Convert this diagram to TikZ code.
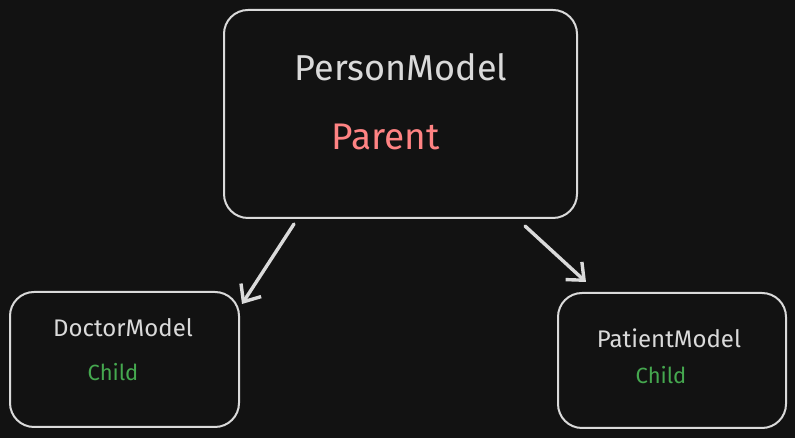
\documentclass[tikz,border=0pt]{standalone}
\usepackage{fontspec}
\setmainfont{Fira Sans}
\usetikzlibrary{arrows.meta}

\definecolor{fond}{HTML}{121212}
\definecolor{trait}{HTML}{DADADA}
\definecolor{rouge}{HTML}{FF8383}
\definecolor{vert}{HTML}{45A84F}

\tikzset{
	boite/.style={draw=trait, line width=2pt, rounded corners=24pt, inner sep=0pt},
	titre/.style={text=trait, inner sep=0pt},
	fleche/.style={draw=trait, line width=3.4pt, line cap=round,
		-{Straight Barb[length=14pt, width=24pt, line width=3.4pt]}}
}

\begin{document}
\begin{tikzpicture}[x=1pt, y=1pt]

	\def\L{795} % Largeur de l'image
	
	\def\H{438} % Hauteur de l'image
	
	% fond
	\fill[fond] (0, 0) rectangle (\L, \H);
	\useasboundingbox (0, 0) rectangle (\L, \H);
	
	% les trois boites
	\node[boite, minimum width=353pt, minimum height=208pt] (person) at (400.5, 324) {};
	\node[boite, minimum width=229pt, minimum height=135pt] (doctor) at (124.5, 78.5) {};
	\node[boite, minimum width=228pt, minimum height=135pt] (patient) at (672, 77.5) {};
	
	% les textes
	\node[titre, font=\fontsize{36}{40}\selectfont] (personNom) at (401, 371) {PersonModel};
	\node[titre, text=rouge, font=\fontsize{37}{40}\selectfont] (personRole) at (385.5, 301) {Parent};
	\node[titre, font=\fontsize{24}{28}\selectfont] (doctorNom) at (123, 110) {DoctorModel};
	\node[titre, text=vert, font=\fontsize{22}{26}\selectfont] (doctorRole) at (113, 66) {Child};
	\node[titre, font=\fontsize{24}{28}\selectfont] (patientNom) at (669, 100) {PatientModel};
	\node[titre, text=vert, font=\fontsize{22}{26}\selectfont] (patientRole) at (661, 63) {Child};
	
	% extremites des fleches
	\coordinate (gDebut) at ([xshift=71pt, yshift=-5pt] person.south west);
	\coordinate (gFin) at ([xshift=2pt, yshift=-13pt] doctor.north east);
	\coordinate (dDebut) at ([xshift=-53pt, yshift=-7pt] person.south east);
	\coordinate (dFin) at ([xshift=29pt, yshift=10pt] patient.north west);
	
	\draw[fleche] (gDebut) -- (gFin);
	\draw[fleche] (dDebut) -- (dFin);

\end{tikzpicture}
\end{document}
